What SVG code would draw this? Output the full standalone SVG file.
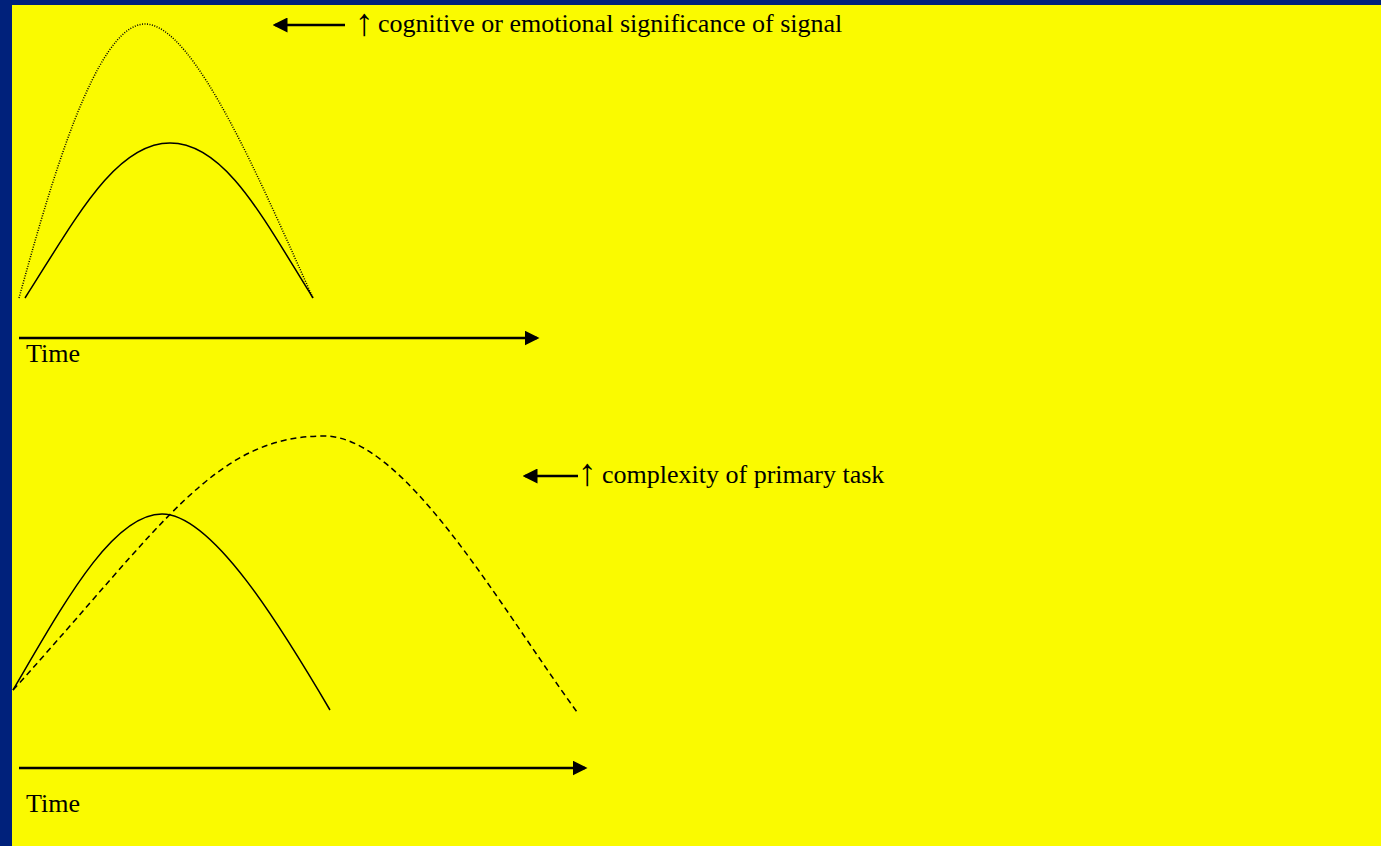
<svg xmlns="http://www.w3.org/2000/svg" width="1381" height="846" viewBox="0 0 1381 846">
<defs>
<style>
.curve{fill:none;stroke:#000;stroke-width:1.5}
.axis{stroke:#000;stroke-width:2.5;fill:none}
.lbl{font-family:"Liberation Serif","Times New Roman",serif;font-size:26px;fill:#000}
.up{font-family:"Liberation Serif","Times New Roman",serif;font-size:38px;fill:#000}
.time{font-family:"Liberation Serif","Times New Roman",serif;font-size:26px;fill:#000}
</style>
<marker id="ah" markerWidth="6" markerHeight="6" refX="5" refY="3" orient="auto" markerUnits="strokeWidth">
<path d="M0,0 L6,3 L0,6 Z" fill="#000"/>
</marker>
</defs>
<rect x="0" y="0" width="1381" height="846" fill="#00217B"/>
<rect x="12" y="5" width="1369" height="841" fill="#FAFA00"/>
<g id="curves-top">
<path class="curve" d="M19,298 C49,190 95,24 145,24 C195,24 263,188 313,298" stroke-width="1.2" stroke-dasharray="1,1.5"/>
<path class="curve" d="M25,298 C75,220 115,143 170,143 C225,143 263,218 313,298"/>
</g>
<g id="curves-bottom">
<path class="curve" d="M13,690 C63,605 112,514 162,514 C212,514 280,625 330,710"/>
<path class="curve" d="M13,690 C163,525 214,436 324,436 C404,436 497,602 577,712" stroke-dasharray="6,4"/>
</g>
<g id="connectors">
<line class="axis" x1="19" y1="338" x2="537" y2="338" marker-end="url(#ah)"/>
<line class="axis" x1="19" y1="768" x2="585" y2="768" marker-end="url(#ah)"/>
<line class="axis" x1="345" y1="25" x2="275" y2="25" marker-end="url(#ah)"/>
<line class="axis" x1="578" y1="476" x2="525" y2="476" marker-end="url(#ah)"/>
</g>
<g id="label-top">
<text class="up" x="364" y="35" text-anchor="middle">↑</text>
<text class="lbl" x="378" y="32">cognitive or emotional significance of signal</text>
</g>
<g id="label-bottom">
<text class="up" x="587" y="485" text-anchor="middle">↑</text>
<text class="lbl" x="602" y="483">complexity of primary task</text>
</g>
<g id="time-top"><text class="time" x="26" y="362">Time</text></g>
<g id="time-bottom"><text class="time" x="26" y="812">Time</text></g>
</svg>
